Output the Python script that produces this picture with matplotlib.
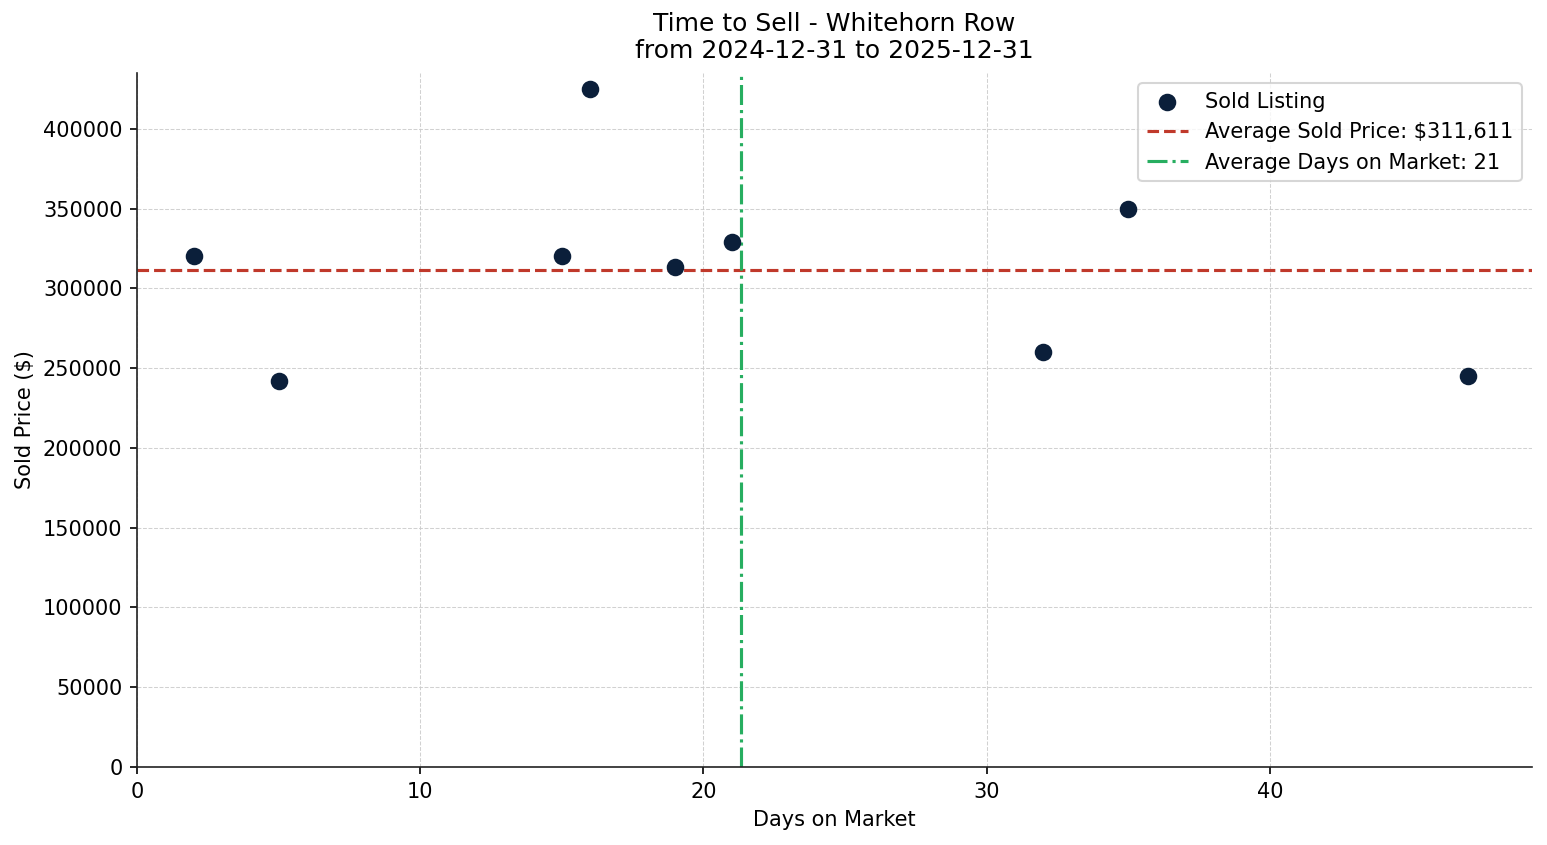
import matplotlib
matplotlib.use("Agg")
import matplotlib.pyplot as plt
import numpy as np

days = [2, 5, 15, 16, 19, 21, 32, 35, 47]
prices = [320000, 242000, 320000, 425000, 313500, 329000, 260000, 350000, 245000]
title_lines = ["Time to Sell - Whitehorn Row", "from 2024-12-31 to 2025-12-31"]

avg_price = np.mean(prices)
avg_days = np.mean(days)

fig = plt.figure(figsize=(1547/150, 845/150), dpi=150)
ax = fig.add_axes([137/1547, 1-767/845, (1532-137)/1547, (767-73)/845])

ax.scatter(days, prices, s=55, color="#0b1f3a", zorder=3, label="Sold Listing")
ax.axhline(avg_price, color="#c0392b", linestyle="--", linewidth=1.5,
           label=f"Average Sold Price: ${avg_price:,.0f}")
ax.axvline(avg_days, color="#27ae60", linestyle="-.", linewidth=1.5,
           label=f"Average Days on Market: {avg_days:.0f}")

ax.set_xlim(0, 49.25)
ax.set_ylim(0, 435000)
ax.set_yticks(np.arange(0, 400001, 50000))
ax.grid(True, linestyle="--", linewidth=0.5, color="#cccccc", alpha=0.9)
ax.set_axisbelow(True)
for s in ["top", "right"]:
    ax.spines[s].set_visible(False)
for s in ["left", "bottom"]:
    ax.spines[s].set_color("#222222")

ax.set_xlabel("Days on Market", fontsize=10)
ax.set_ylabel("Sold Price ($)", fontsize=10)
ax.set_title("\n".join(title_lines), fontsize=12, pad=7)
ax.tick_params(labelsize=10)
ax.legend(loc="upper right", fontsize=10)

fig.savefig("out.png", dpi=150)
